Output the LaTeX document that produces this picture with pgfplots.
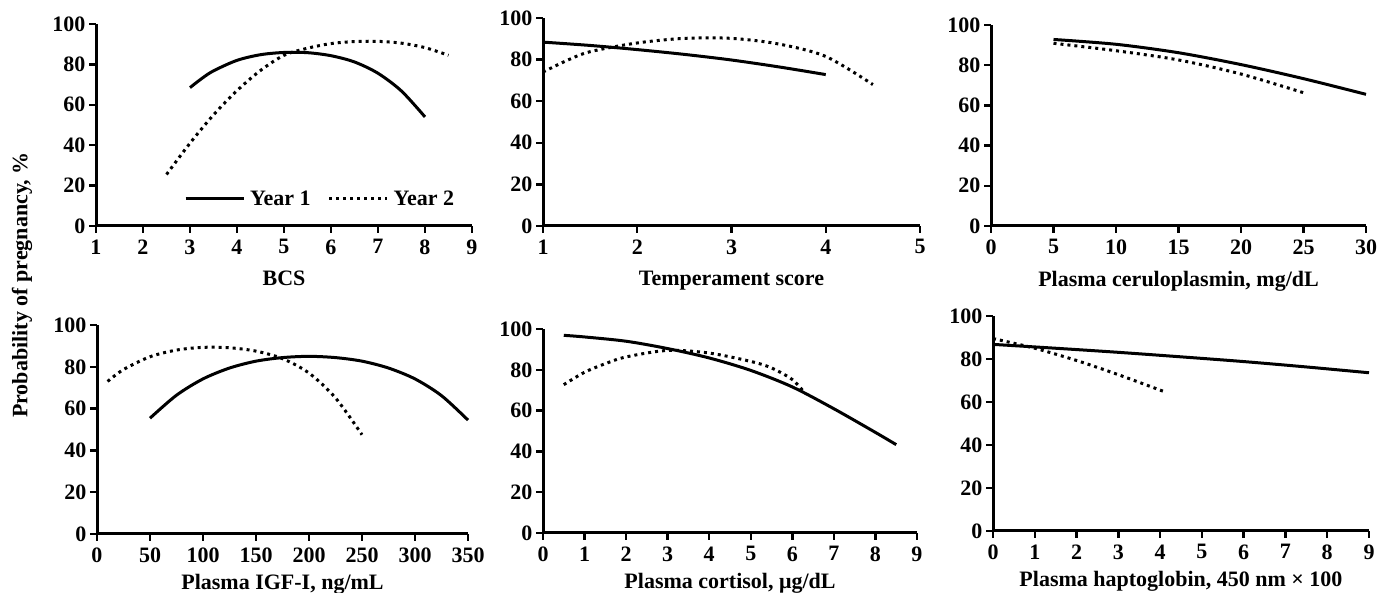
\documentclass[border=0pt]{standalone}
\usepackage{fontspec}
\setmainfont{Liberation Serif}
\usepackage{pgfplots}
\pgfplotsset{compat=1.18}

\newcommand\lab{\fontsize{22}{26}\selectfont\bfseries}

\pgfplotsset{
  panel/.style={
    scale only axis, anchor=south west,
    axis x line*=bottom, axis y line*=left,
    ymin=0, ymax=100, ytick={0,20,...,100},
    tick align=outside, major tick length=7pt,
    axis line style={line width=3pt},
    every tick/.style={line width=2.4pt, black},
    tick label style={font=\lab},
    xticklabel style={yshift=-3pt},
    label style={font=\lab},
    xlabel style={yshift=-10pt},
    /pgf/number format/assume math mode=true,
    clip=false, enlargelimits=false,
  },
  lower/.style={xlabel style={yshift=5pt}},
  yone/.style={black, line width=3pt, smooth, no marks},
  ytwo/.style={black, line width=3pt, smooth, no marks, dash pattern=on 3pt off 4pt},
}

\begin{document}
\begin{tikzpicture}[x=1pt,y=1pt]
\useasboundingbox (0,0) rectangle (1379,593);

% BCS
\begin{axis}[panel, at={(96pt,367pt)}, width=376pt, height=202pt,
  xmin=1, xmax=9, xtick={1,...,9}, xlabel={BCS},
  legend style={at={(0.6,0.134)}, anchor=center, draw=none, fill=none,
    legend columns=2, font=\lab, nodes={inner xsep=5pt},
    /tikz/every even column/.append style={column sep=12pt}},
  legend image code/.code={\draw[#1] (0pt,0pt) -- (58pt,0pt);}]
\addplot[yone] coordinates {(3,68.5) (3.25,73) (3.5,76.8) (4,82) (4.5,84.8) (5,85.9) (5.5,85.8) (6,84.3) (6.5,81.2) (7,75.6) (7.5,66.8) (8,54)};
\addplot[ytwo] coordinates {(2.5,25.5) (3,41) (3.5,55) (4,67) (4.5,77) (5,84.5) (5.5,88) (6,90.3) (6.5,91.3) (7,91.4) (7.5,90.5) (8,88.3) (8.5,84.5)};
\legend{Year 1, Year 2}
\end{axis}

% Temperament
\begin{axis}[panel, at={(543pt,367pt)}, width=377pt, height=208pt,
  xmin=1, xmax=5, xtick={1,...,5}, xlabel={Temperament score}]
\addplot[yone] coordinates {(1,88.4) (1.5,86.8) (2,84.8) (2.5,82.5) (3,79.8) (3.5,76.5) (4,72.8)};
\addplot[ytwo] coordinates {(1,74) (1.25,79.5) (1.5,83.8) (2,88) (2.5,90.2) (3,90.2) (3.5,87.5) (4,81.5) (4.5,68)};
\end{axis}

% Ceruloplasmin
\begin{axis}[panel, at={(991pt,367pt)}, width=375pt, height=201pt,
  xmin=0, xmax=30, xtick={0,5,...,30}, xlabel={Plasma ceruloplasmin, mg/dL}]
\addplot[yone] coordinates {(5,92.8) (10,90.4) (15,86.2) (20,80.3) (25,73.3) (30,65.5)};
\addplot[ytwo] coordinates {(5,90.9) (10,87.2) (15,82.6) (20,75.6) (25,66.3)};
\end{axis}

% IGF-I
\begin{axis}[panel, lower, at={(97pt,59pt)}, width=371pt, height=209pt,
  xmin=0, xmax=350, xtick={0,50,...,350}, xlabel={Plasma IGF-I, ng/mL}]
\addplot[yone] coordinates {(50,55.4) (75,66.4) (100,74.2) (125,79.4) (150,82.7) (175,84.4) (200,85) (225,84.4) (250,82.7) (275,79.4) (300,74.2) (325,66.2) (350,54.5)};
\addplot[ytwo] coordinates {(10,73) (25,78.7) (50,84.8) (75,88) (100,89.3) (125,89.1) (150,87.5) (175,83.9) (200,77) (225,65.1) (250,47.5)};
\end{axis}

% Cortisol
\begin{axis}[panel, lower, at={(543pt,60pt)}, width=374pt, height=204pt,
  xmin=0, xmax=9, xtick={0,...,9}, xlabel={Plasma cortisol, μg/dL}]
\addplot[yone] coordinates {(0.5,96.9) (1,96.1) (2,94) (3,90.4) (4,85.8) (5,79.7) (6,71.6) (7,60.9) (8,49.3) (8.5,43.3)};
\addplot[ytwo] coordinates {(0.5,72.7) (1,78.8) (1.5,83) (2,86.3) (3,89.5) (4,88.2) (5,84.1) (5.5,80.9) (6,75.2) (6.3,68.6)};
\end{axis}

% Haptoglobin
\begin{axis}[panel, lower, at={(993pt,62pt)}, width=376pt, height=215pt,
  xmin=0, xmax=9, xtick={0,...,9}, xlabel={Plasma haptoglobin, 450 nm × 100}]
\addplot[yone] coordinates {(0,86.8) (1.5,85) (3,83.1) (4.5,81) (6,78.8) (7.5,76.3) (9,73.6)};
\addplot[ytwo] coordinates {(0,89.5) (1,85) (2,79.3) (3,72.7) (4.1,64.8)};
\end{axis}

\node[rotate=90, font=\lab] at (22,308) {Probability of pregnancy, \%};
\end{tikzpicture}
\end{document}
